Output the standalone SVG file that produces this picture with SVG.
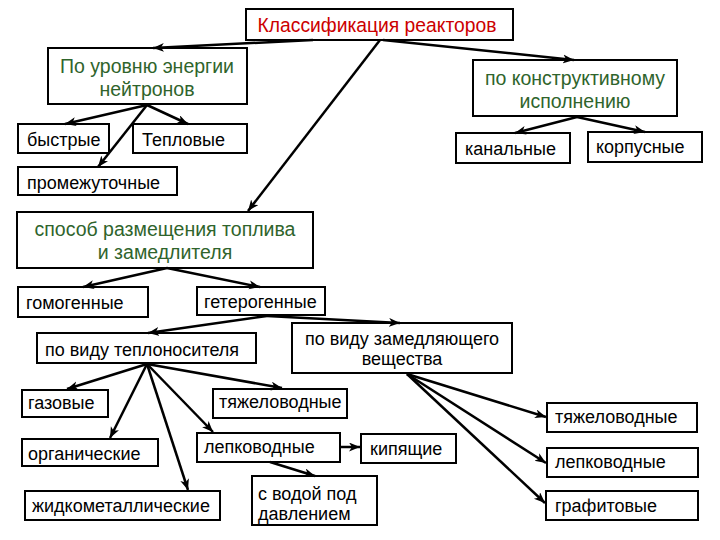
<svg xmlns="http://www.w3.org/2000/svg" width="720" height="540" viewBox="0 0 720 540">
<style>
.box{fill:#fff;stroke:#000;stroke-width:2}
.t{font-family:"Liberation Sans",Arial,sans-serif;font-size:18px;fill:#000}
.c{text-anchor:middle}
.g{fill:#2f642c;font-size:19.5px}
.r{fill:#cc0000;font-size:19.3px}
.ln{stroke:#000;stroke-width:2.5;fill:none;marker-end:url(#ah)}
</style>
<defs>
<marker id="ah" markerUnits="userSpaceOnUse" markerWidth="12" markerHeight="10" refX="11" refY="4.5" orient="auto">
<path d="M0,0 L11,4.5 L0,9 L3,4.5 Z" fill="#000"/>
</marker>
</defs>
<rect width="720" height="540" fill="#fff"/>
<g id="n-title"><rect class="box" x="246" y="9" width="267" height="31"/><text class="t c r" x="377" y="32">Классификация реакторов</text></g>
<g id="n-energy"><rect class="box" x="48" y="48" width="199" height="56"/><text class="t c g" x="147" y="73">По уровню энергии</text><text class="t c g" x="147" y="96">нейтронов</text></g>
<g id="n-constr"><rect class="box" x="473" y="60" width="204" height="56"/><text class="t c g" x="575" y="85">по конструктивному</text><text class="t c g" x="575" y="108">исполнению</text></g>
<g id="n-fast"><rect class="box" x="18" y="124" width="91" height="29"/><text class="t" x="27" y="146">быстрые</text></g>
<g id="n-thermal"><rect class="box" x="133" y="124" width="114" height="29"/><text class="t" x="142" y="146">Тепловые</text></g>
<g id="n-inter"><rect class="box" x="18" y="167" width="159" height="28"/><text class="t" x="27" y="189">промежуточные</text></g>
<g id="n-channel"><rect class="box" x="456" y="133" width="114" height="30"/><text class="t" x="465" y="155">канальные</text></g>
<g id="n-vessel"><rect class="box" x="588" y="132" width="114" height="30"/><text class="t" x="596" y="153">корпусные</text></g>
<g id="n-method"><rect class="box" x="17" y="212" width="296" height="56"/><text class="t c g" x="165" y="236">способ размещения топлива</text><text class="t c g" x="165" y="259">и замедлителя</text></g>
<g id="n-homo"><rect class="box" x="18" y="287" width="130" height="30"/><text class="t" x="26" y="309">гомогенные</text></g>
<g id="n-hetero"><rect class="box" x="197" y="287" width="128" height="28"/><text class="t" x="204" y="308">гетерогенные</text></g>
<g id="n-coolant"><rect class="box" x="37" y="333" width="219" height="30"/><text class="t" x="45" y="356">по виду теплоносителя</text></g>
<g id="n-moder"><rect class="box" x="292" y="323" width="220" height="50"/><text class="t c" x="402" y="345">по виду замедляющего</text><text class="t c" x="402" y="365">вещества</text></g>
<g id="n-gas"><rect class="box" x="22" y="390" width="86" height="27"/><text class="t" x="28" y="409">газовые</text></g>
<g id="n-org"><rect class="box" x="22" y="439" width="136" height="27"/><text class="t" x="28" y="460">органические</text></g>
<g id="n-liqmet"><rect class="box" x="25" y="491" width="195" height="29"/><text class="t" x="32" y="512">жидкометаллические</text></g>
<g id="n-heavyL"><rect class="box" x="213" y="389" width="134" height="29"/><text class="t" x="219" y="408">тяжеловодные</text></g>
<g id="n-lightM"><rect class="box" x="197" y="433" width="143" height="29"/><text class="t" x="204" y="453">лепководные</text></g>
<g id="n-boil"><rect class="box" x="361" y="434" width="95" height="29"/><text class="t" x="370" y="455">кипящие</text></g>
<g id="n-press"><rect class="box" x="252" y="476" width="125" height="49"/><text class="t" x="258" y="500">с водой под</text><text class="t" x="258" y="520">давлением</text></g>
<g id="n-heavyR"><rect class="box" x="547" y="403" width="150" height="29"/><text class="t" x="555" y="423">тяжеловодные</text></g>
<g id="n-lightR"><rect class="box" x="547" y="448" width="151" height="29"/><text class="t" x="555" y="468">лепководные</text></g>
<g id="n-graph"><rect class="box" x="546" y="491" width="152" height="29"/><text class="t" x="555" y="512">графитовые</text></g>
<g id="connectors">
<line class="ln" x1="313" y1="40" x2="153" y2="48"/>
<line class="ln" x1="383" y1="40" x2="574" y2="60"/>
<line class="ln" x1="380" y1="40" x2="248" y2="211"/>
<line class="ln" x1="147" y1="105" x2="65" y2="124"/>
<line class="ln" x1="147" y1="105" x2="188" y2="124"/>
<line class="ln" x1="147" y1="105" x2="98" y2="167"/>
<line class="ln" x1="577" y1="117" x2="515" y2="133"/>
<line class="ln" x1="577" y1="117" x2="645" y2="132"/>
<line class="ln" x1="167" y1="268" x2="83" y2="287"/>
<line class="ln" x1="167" y1="268" x2="260" y2="287"/>
<line class="ln" x1="267" y1="316" x2="148" y2="333"/>
<line class="ln" x1="267" y1="316" x2="400" y2="323"/>
<line class="ln" x1="147" y1="364" x2="67" y2="389"/>
<line class="ln" x1="147" y1="364" x2="110" y2="438"/>
<line class="ln" x1="147" y1="364" x2="188" y2="490"/>
<line class="ln" x1="147" y1="364" x2="213" y2="432"/>
<line class="ln" x1="147" y1="364" x2="282" y2="388"/>
<line class="ln" x1="340" y1="447" x2="360" y2="447"/>
<line class="ln" x1="270" y1="462" x2="315" y2="476"/>
<line class="ln" x1="407" y1="374" x2="546" y2="417"/>
<line class="ln" x1="407" y1="374" x2="546" y2="463"/>
<line class="ln" x1="407" y1="374" x2="545" y2="503"/>
</g>
</svg>
